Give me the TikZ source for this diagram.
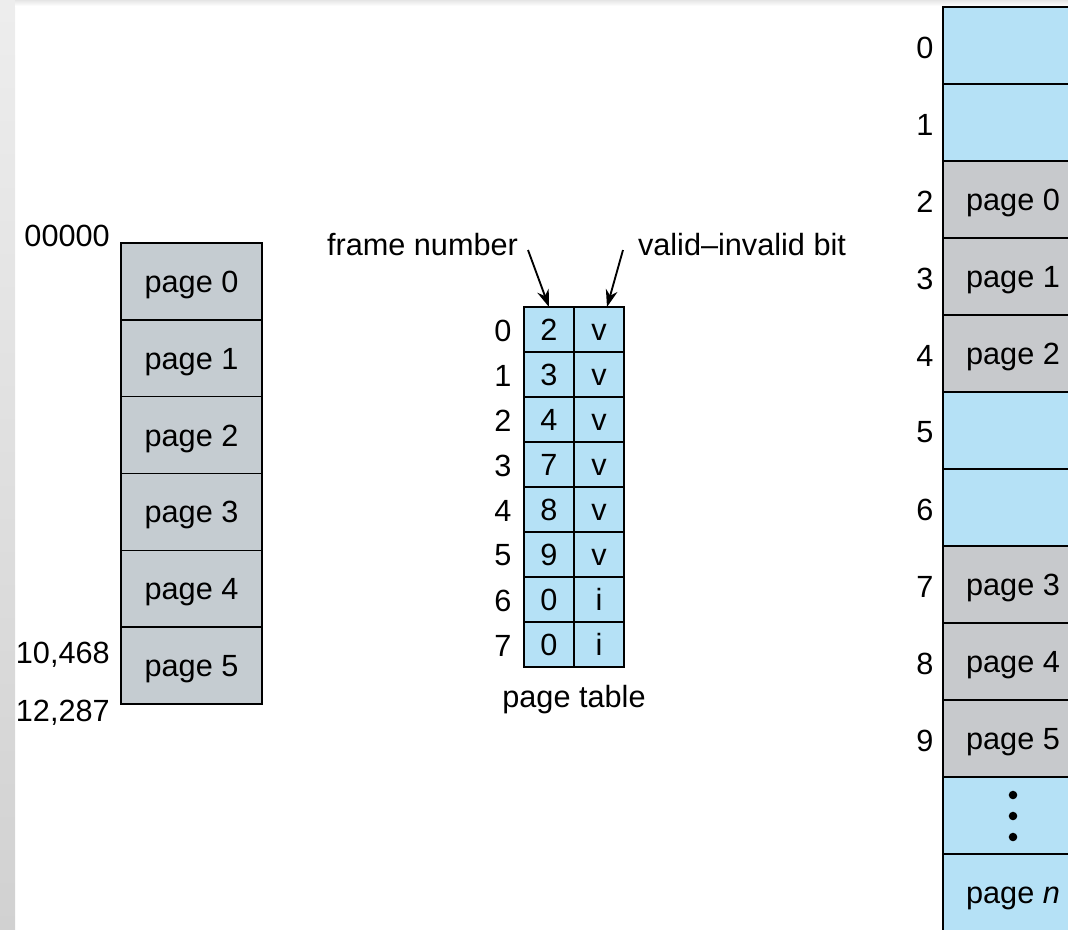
\documentclass[tikz,border=0pt]{standalone}
\usepackage{fontspec}
\setmainfont{Liberation Sans}
\usetikzlibrary{arrows.meta}
\definecolor{memblue}{RGB}{181,225,246}
\definecolor{pagegray}{RGB}{197,204,209}
\definecolor{framegray}{RGB}{199,201,204}
\begin{document}
\begin{tikzpicture}[x=0.75pt,y=-0.75pt,
  font=\fontsize{23}{27}\selectfont,
  cell/.style={draw=black, line width=1.1pt, inner sep=0pt, outer sep=0pt, text height=16.5pt, text depth=0pt},
  lpage/.style={cell, fill=pagegray, minimum width=105.75pt, minimum height=57.6pt},
  fcell/.style={cell, fill=memblue, minimum width=37.5pt, minimum height=33.75pt},
  vcell/.style={cell, fill=memblue, minimum width=37.5pt, minimum height=33.75pt},
  rfree/.style={cell, fill=memblue, minimum width=105pt, minimum height=57.75pt},
  rused/.style={cell, fill=framegray, minimum width=105pt, minimum height=57.75pt},
  lbl/.style={inner sep=0pt},
  ptr/.style={line width=1.4pt, -{Stealth[length=13pt,width=9pt]}}]
\useasboundingbox (0,0) rectangle (1068,929);
\clip (0,0) rectangle (1068,929);
% window edges
\shade[top color=black!7, bottom color=black!18] (0,0) rectangle (15,929);
\shade[top color=black!10, bottom color=white] (15,0) rectangle (1068,6);
% logical memory
\foreach \i in {0,...,5}{
  \node[lpage] (lp\i) at (191.5,{243+76.83*(\i+0.5)}) {page \i};
}
\node[lbl, anchor=east] (a0) at (110,236) {00000};
\node[lbl, anchor=east] (a1) at (110,655) {10,468};
\node[lbl, anchor=east] (a2) at (110,713) {12,287};
% page table
\foreach \i/\f/\b in {0/2/v,1/3/v,2/4/v,3/7/v,4/8/v,5/9/v,6/0/i,7/0/i}{
  \node[fcell] (pf\i) at (549,{307+45*(\i+0.5)}) {\f};
  \node[vcell] (pv\i) at (599,{307+45*(\i+0.5)}) {\b};
  \node[lbl] (pi\i) at (503,{308+45*(\i+0.5)}) {\i};
}
\node[lbl] (ptl) at (574,700) {page table};
\node[lbl] (fnl) at (422.5,245) {frame number};
\node[lbl] (vbl) at (742,245) {valid--invalid bit};
\coordinate (fnA) at (528,250);
\coordinate (vbA) at (623,250);
\draw[ptr] (fnA) -- (pf0.north);
\draw[ptr] (vbA) -- ([xshift=6pt]pv0.north);
% physical memory
\foreach \i/\s/\t in {0/rfree/{},1/rfree/{},2/rused/{page 0},3/rused/{page 1},4/rused/{page 2},5/rfree/{},6/rfree/{},7/rused/{page 3},8/rused/{page 4},9/rused/{page 5},10/rfree/{},11/rfree/{page \textit{n}}}{
  \node[\s] (pm\i) at (1013,{7+77*(\i+0.5)}) {\t};
}
\foreach \i in {0,...,9}{
  \node[lbl] (fi\i) at (925,{9+77*(\i+0.5)}) {\i};
}
\foreach \k/\y in {1/795,2/816,3/837}{
  \fill (1013,\y) circle[radius=3.2pt];
}
\end{tikzpicture}
\end{document}
